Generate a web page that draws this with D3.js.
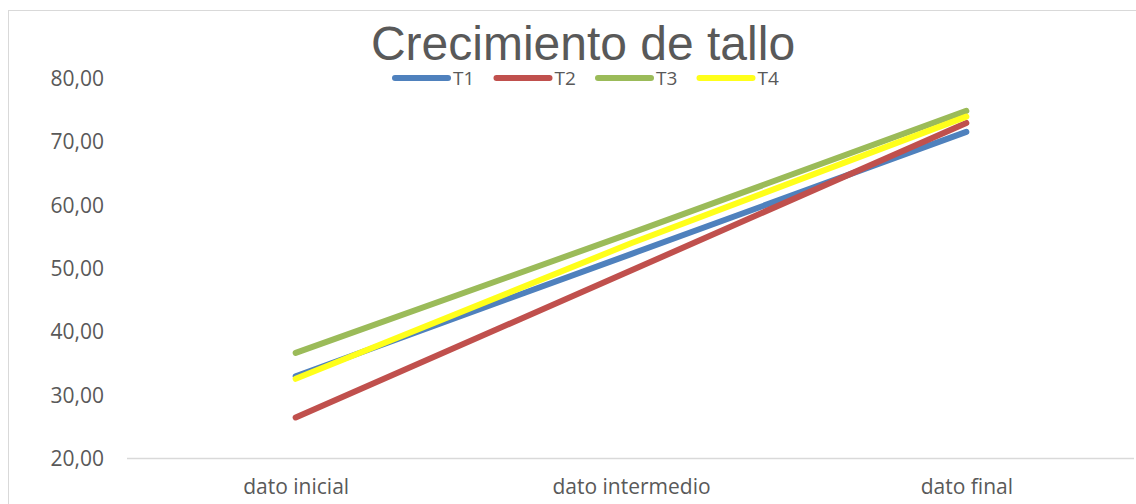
<!DOCTYPE html>
<html><head><meta charset="utf-8">
<script src="https://cdn.jsdelivr.net/npm/d3@7"></script>
<style>html,body{margin:0;padding:0;background:#fff;overflow:hidden}</style>
</head><body>
<svg id="c" width="1136" height="504"></svg>
<script>
const categories = ["dato inicial", "dato intermedio", "dato final"];
const seriesNames = ["T1", "T2", "T3", "T4"];
const t1 = [32.9, 52.2, 71.5];
const t2 = [26.4, 49.6, 72.9];
const t3 = [36.6, 55.5, 74.8];
const t4 = [32.5, 53.9, 73.9];
const seriesColors = ["#4F81BD", "#C0504D", "#9BBB59", "#FFFF1A"];
const yTicks = [20, 30, 40, 50, 60, 70, 80];
const title = "Crecimiento de tallo";

const series = [t1, t2, t3, t4].map((v, i) => ({name: seriesNames[i], values: v, color: seriesColors[i]}));

const svg = d3.select("#c");
// outer chart border
svg.append("rect").attr("x", 8.5).attr("y", 10.5).attr("width", 1150).attr("height", 520)
  .attr("fill", "#fff").attr("stroke", "#d9d9d9").attr("stroke-width", 1);

const plot = {left: 128, right: 1134, top: 78, bottom: 458};
const x = d3.scalePoint().domain(categories).range([plot.left, plot.right]).padding(0.5);
const y = d3.scaleLinear().domain([20, 80]).range([plot.bottom, plot.top]);

const font = "'Open Sans', sans-serif";
const textColor = "#595959";

// y axis labels (no axis line)
const yAxis = d3.axisLeft(y).tickValues(yTicks).tickSize(0).tickPadding(0)
  .tickFormat(d => d3.format(".2f")(d).replace(".", ","));
const gy = svg.append("g").attr("transform", `translate(${104},0)`).call(yAxis);
gy.select(".domain").remove();
gy.selectAll("text").attr("font-family", font).attr("font-size", 21).attr("fill", textColor).attr("dy", "0.36em");

// x axis baseline and labels
const xAxis = d3.axisBottom(x).tickSize(0).tickPadding(0);
const gx = svg.append("g").attr("transform", `translate(0,${plot.bottom})`).call(xAxis);
gx.select(".domain").attr("d", `M${plot.left - 1},0.5H${plot.right}`).attr("stroke", "#d9d9d9").attr("stroke-width", 1.5);
gx.selectAll("text").attr("font-family", font).attr("font-size", 21).attr("fill", textColor).attr("dy", 0).attr("y", 36);

// lines
const line = d3.line().x((d, i) => x(categories[i])).y(d => y(d));
svg.append("g").selectAll("path").data(series).join("path")
  .attr("d", d => line(d.values))
  .attr("fill", "none").attr("stroke", d => d.color).attr("stroke-width", 6)
  .attr("stroke-linecap", "round").attr("stroke-linejoin", "round");

// title
svg.append("text").attr("x", 583).attr("y", 60).attr("text-anchor", "middle")
  .attr("font-family", "'Liberation Sans', Arial, sans-serif").attr("font-size", 48).attr("fill", textColor)
  .text(title);

// legend
const legend = svg.append("g").attr("transform", "translate(395,78)");
const item = legend.selectAll("g").data(series).join("g").attr("transform", (d, i) => `translate(${i * 101.5},0)`);
item.append("line").attr("x1", 0).attr("x2", 53).attr("y1", 0).attr("y2", 0)
  .attr("stroke", d => d.color).attr("stroke-width", 6).attr("stroke-linecap", "round");
item.append("text").attr("x", 58).attr("y", 7).attr("font-family", font).attr("font-size", 19)
  .attr("fill", textColor).text(d => d.name);
</script>
</body></html>
